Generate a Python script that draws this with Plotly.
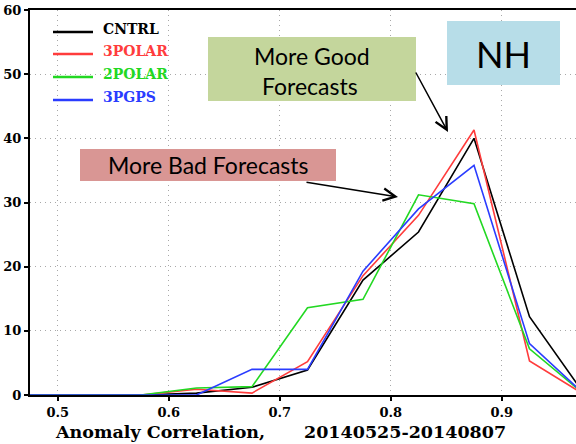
import plotly.graph_objects as go

# ---- data ----
anomaly_corr = [0.475, 0.525, 0.575, 0.625, 0.675, 0.725, 0.775, 0.825, 0.875, 0.925, 0.975]
cntrl  = [0, 0, 0, 0.3, 1.2, 3.9, 17.9, 25.4, 40.0, 12.2, 0]
polar3 = [0, 0, 0, 0.9, 0.3, 5.2, 18.6, 28.0, 41.3, 5.3, 0]
polar2 = [0, 0, 0, 1.1, 1.3, 13.6, 14.9, 31.2, 29.8, 7.2, 0]
pgps3  = [0, 0, 0, 0.0, 4.0, 4.0, 19.3, 29.0, 35.8, 8.0, 0]
series_names = ["CNTRL", "3POLAR", "2POLAR", "3PGPS"]
series_colors = ["#000000", "#ff3c3c", "#22d822", "#2a3cff"]
x_ticks = [0.5, 0.6, 0.7, 0.8, 0.9]
y_ticks = [0, 10, 20, 30, 40, 50, 60]

# ---- layout geometry (pixels) ----
W, H = 576, 444
L, T, R, B = 30, 10, 0, 49
PW, PH = W - L - R, H - T - B

def px(xp):
    return (xp - L) / PW

def py(yp):
    return (T + PH - yp) / PH

fig = go.Figure()
for name, vals, col in zip(series_names, [cntrl, polar3, polar2, pgps3], series_colors):
    fig.add_trace(go.Scatter(x=anomaly_corr, y=vals, mode="lines", name=name,
                             line=dict(color=col, width=1.6), showlegend=False))

tickfont = dict(family="DejaVu Serif", size=13, color="black", weight="bold")
grid = dict(showgrid=True, gridcolor="#a8a8a8", griddash="1px,4px", gridwidth=1)
fig.update_layout(
    width=W, height=H, margin=dict(l=L, r=R, t=T, b=B),
    paper_bgcolor="white", plot_bgcolor="white",
    xaxis=dict(range=[0.475, 0.475 + PW / 1110.0], tickvals=x_ticks,
               ticktext=[f"{v:.1f}" for v in x_ticks], tickfont=tickfont,
               showline=True, linecolor="black", linewidth=2, mirror=True,
               ticks="outside", ticklen=4, tickcolor="black", tickwidth=1.5,
               zeroline=False, layer="below traces", **grid),
    yaxis=dict(range=[0, 60], tickvals=y_ticks, tickfont=tickfont,
               showline=True, linecolor="black", linewidth=2,
               ticks="outside", ticklen=4, tickcolor="black", tickwidth=1.5,
               zeroline=False, layer="below traces", **grid),
)

shapes = []
annotations = []

# legend (manual)
legend_rows = [32, 54, 77, 100]
for name, col, yy in zip(series_names, series_colors, legend_rows):
    shapes.append(dict(type="line", xref="paper", yref="paper",
                       x0=px(53), x1=px(93), y0=py(yy), y1=py(yy),
                       line=dict(color=col, width=2.5)))
    annotations.append(dict(text=name, xref="paper", yref="paper",
                            x=px(101), y=py(yy - 3), xanchor="left", yanchor="middle",
                            showarrow=False,
                            font=dict(family="DejaVu Serif", size=14, color=col, weight="bold")))

# x title
title_font = dict(family="DejaVu Serif", size=17.5, color="black", weight="bold")
annotations.append(dict(text="Anomaly Correlation,", xref="paper", yref="paper",
                        x=px(53), y=py(432), xanchor="left", yanchor="middle",
                        showarrow=False, font=title_font))
annotations.append(dict(text="20140525-20140807", xref="paper", yref="paper",
                        x=px(302), y=py(432), xanchor="left", yanchor="middle",
                        showarrow=False, font=title_font))

# boxes
box_font = dict(family="Lato", size=23, color="black")
shapes.append(dict(type="rect", xref="paper", yref="paper", layer="above",
                   x0=px(208), x1=px(416), y0=py(101), y1=py(37),
                   fillcolor="#c4d69c", line=dict(width=0)))
annotations.append(dict(text="More Good", xref="paper", yref="paper",
                        x=px(312), y=py(56), xanchor="center", yanchor="middle",
                        showarrow=False, font=box_font))
annotations.append(dict(text="Forecasts", xref="paper", yref="paper",
                        x=px(310), y=py(86), xanchor="center", yanchor="middle",
                        showarrow=False, font=box_font))

shapes.append(dict(type="rect", xref="paper", yref="paper", layer="above",
                   x0=px(80), x1=px(336), y0=py(181), y1=py(149),
                   fillcolor="#d99694", line=dict(width=0)))
annotations.append(dict(text="More Bad Forecasts", xref="paper", yref="paper",
                        x=px(208), y=py(165), xanchor="center", yanchor="middle",
                        showarrow=False, font=box_font))

shapes.append(dict(type="rect", xref="paper", yref="paper", layer="above",
                   x0=px(447), x1=px(560), y0=py(85), y1=py(21),
                   fillcolor="#b7dde8", line=dict(width=0)))
annotations.append(dict(text="NH", xref="paper", yref="paper",
                        x=px(503), y=py(54), xanchor="center", yanchor="middle",
                        showarrow=False, font=dict(family="Lato", size=36, color="black")))

# arrows
def arrow(tail, tip):
    return dict(text="", xref="paper", yref="paper", x=px(tip[0]), y=py(tip[1]),
                ax=tail[0] - tip[0], ay=tail[1] - tip[1], showarrow=True,
                arrowhead=5, arrowsize=1.6, arrowwidth=1.5, arrowcolor="black")

annotations.append(arrow((415, 71), (448, 132)))
annotations.append(arrow((305, 182), (398, 197)))

fig.update_layout(shapes=shapes, annotations=annotations)
fig.write_html("out.html")
